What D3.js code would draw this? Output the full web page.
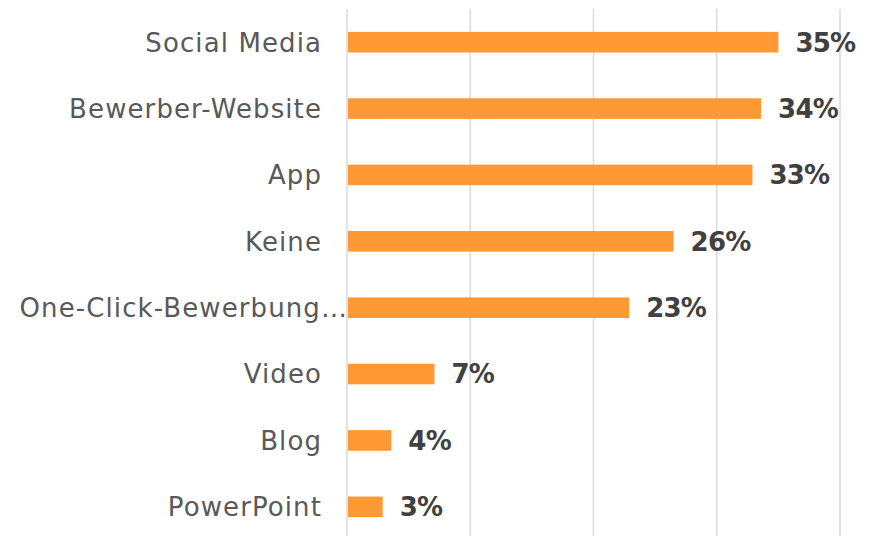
<!DOCTYPE html>
<html>
<head>
<meta charset="utf-8">
<script src="https://cdn.jsdelivr.net/npm/d3@7"></script>
<style>
  html, body { margin: 0; padding: 0; background: #fff; }
  svg { display: block; }
</style>
</head>
<body>
<div id="chart"></div>
<script>
// Channels used for applications (share of respondents)
const categories = ['Social Media', 'Bewerber-Website', 'App', 'Keine', 'One-Click-Bewerbung\u2026', 'Video', 'Blog', 'PowerPoint'];
const values = [0.35, 0.336, 0.329, 0.265, 0.229, 0.071, 0.036, 0.029];
const valueLabels = ['35%', '34%', '33%', '26%', '23%', '7%', '4%', '3%'];
const gridTicks = [0, 0.1, 0.2, 0.3, 0.4];

const width = 871;
const height = 536;

// --- Scales ---
const x = d3.scaleLinear().domain([0, 0.4]).range([347, 840]);
const y = d3.scaleBand()
  .domain(categories)
  .range([9, 540])
  .paddingInner(0.69)
  .paddingOuter(0.345);

const svg = d3.select('#chart')
  .append('svg')
  .attr('width', width)
  .attr('height', height)
  .attr('viewBox', `0 0 ${width} ${height}`);

// --- Gridlines ---
svg.append('g')
  .selectAll('line')
  .data(gridTicks)
  .enter()
  .append('line')
  .attr('x1', d => x(d))
  .attr('x2', d => x(d))
  .attr('y1', 9)
  .attr('y2', height)
  .attr('stroke', '#d9d9d9')
  .attr('stroke-width', 1.5);

// --- Bars ---
svg.append('g')
  .selectAll('rect')
  .data(values)
  .enter()
  .append('rect')
  .attr('x', x(0) + 1)
  .attr('y', (d, i) => y(categories[i]))
  .attr('width', d => x(d) - x(0) - 1)
  .attr('height', y.bandwidth())
  .attr('fill', '#FF9933');

// --- Value labels ---
svg.append('g')
  .selectAll('text')
  .data(values)
  .enter()
  .append('text')
  .attr('x', d => x(d) + 17)
  .attr('y', (d, i) => y(categories[i]) + y.bandwidth() / 2)
  .attr('dy', '0.36em')
  .attr('font-family', 'DejaVu Sans, sans-serif')
  .attr('font-weight', 'bold')
  .attr('font-size', 26)
  .attr('letter-spacing', -0.8)
  .attr('fill', '#404040')
  .text((d, i) => valueLabels[i]);

// --- Category labels ---
svg.append('g')
  .selectAll('text')
  .data(categories)
  .enter()
  .append('text')
  .attr('x', d => d.endsWith('\u2026') ? x(0) + 1 : 322)
  .attr('y', d => y(d) + y.bandwidth() / 2)
  .attr('dy', '0.36em')
  .attr('text-anchor', 'end')
  .attr('font-family', 'DejaVu Sans, sans-serif')
  .attr('font-size', 26)
  .attr('letter-spacing', 1.1)
  .attr('fill', '#595959')
  .text(d => d);
</script>
</body>
</html>
